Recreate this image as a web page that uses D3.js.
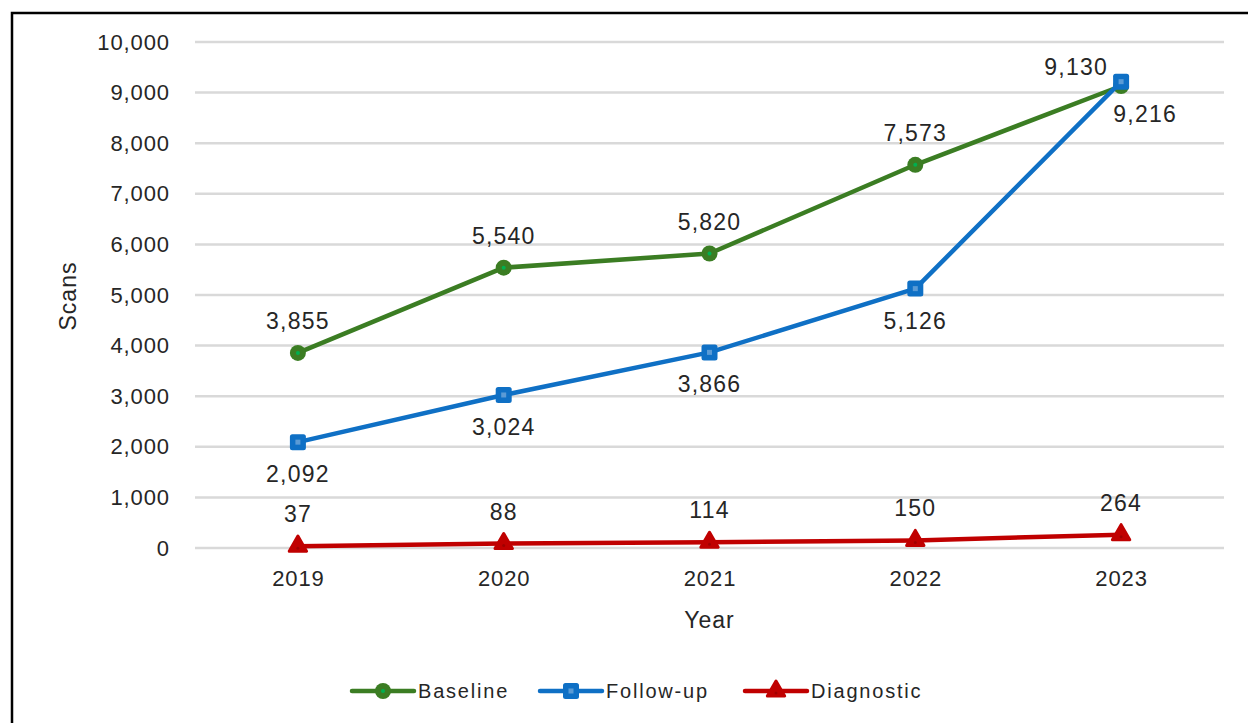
<!DOCTYPE html>
<html>
<head>
<meta charset="utf-8">
<script src="https://cdn.jsdelivr.net/npm/d3@7"></script>
<style>
  html, body { margin: 0; padding: 0; background: #fff; }
  svg { display: block; }
</style>
</head>
<body>
<svg id="chart" width="1248" height="723"></svg>
<script>
const years = ["2019", "2020", "2021", "2022", "2023"];
const baseline = [3855, 5540, 5820, 7573, 9130];
const followUp = [2092, 3024, 3866, 5126, 9216];
const diagnostic = [37, 88, 114, 150, 264];
const yTicks = [0, 1000, 2000, 3000, 4000, 5000, 6000, 7000, 8000, 9000, 10000];
const seriesNames = ["Baseline", "Follow-up", "Diagnostic"];

const series = [
  { name: seriesNames[0], values: baseline, color: "#3B7D23", inner: "#00B050", shape: "circle", labelPos: "above" },
  { name: seriesNames[1], values: followUp, color: "#0F70C5", inner: "#5B9BD5", shape: "square", labelPos: "below" },
  { name: seriesNames[2], values: diagnostic, color: "#C00000", inner: "#A00000", shape: "triangle", labelPos: "above" }
];
// special label nudges for the crowded 2023 points
const labelNudge = { "Baseline-2023": [-45, 13], "Follow-up-2023": [24, 0] };

const svg = d3.select("#chart");
const font = "'Liberation Sans', Arial, sans-serif";
const txt = "#262626";

// frame
svg.append("rect").attr("x", 12).attr("y", 13).attr("width", 1260).attr("height", 740)
  .attr("fill", "none").attr("stroke", "#000").attr("stroke-width", 2.5);

const x = d3.scalePoint().domain(years).range([195, 1224]).padding(0.5);
const y = d3.scaleLinear().domain([0, 10000]).range([548, 42]);

// gridlines
svg.append("g").selectAll("line").data(yTicks).join("line")
  .attr("x1", 195).attr("x2", 1224)
  .attr("y1", d => y(d)).attr("y2", d => y(d))
  .attr("stroke", "#D9D9D9").attr("stroke-width", 2.5);

// y axis
const yAxis = d3.axisLeft(y).tickValues(yTicks).tickFormat(d3.format(",")).tickSize(0).tickPadding(0);
const yg = svg.append("g").attr("transform", "translate(170,0)").call(yAxis);
yg.select(".domain").remove();
yg.selectAll("text").attr("font-family", font).attr("font-size", 22).attr("letter-spacing", 0.9).attr("fill", txt);

// x axis
const xAxis = d3.axisBottom(x).tickSize(0).tickPadding(0);
const xg = svg.append("g").attr("transform", "translate(0,570)").call(xAxis);
xg.select(".domain").remove();
xg.selectAll("text").attr("font-family", font).attr("font-size", 22).attr("letter-spacing", 0.9).attr("fill", txt);

// axis titles
svg.append("text").attr("x", x("2021")).attr("y", 628).attr("text-anchor", "middle")
  .attr("font-family", font).attr("font-size", 23).attr("letter-spacing", 1).attr("fill", txt).text("Year");
svg.append("text").attr("transform", "translate(76,296) rotate(-90)").attr("text-anchor", "middle")
  .attr("font-family", font).attr("font-size", 23).attr("letter-spacing", 1).attr("fill", txt).text("Scans");

const line = d3.line().x((d, i) => x(years[i])).y(d => y(d));

function drawMarker(g, shape, cx, cy, color, inner) {
  if (shape === "circle") {
    g.append("circle").attr("cx", cx).attr("cy", cy).attr("r", 8).attr("fill", color);
    g.append("circle").attr("cx", cx).attr("cy", cy).attr("r", 2).attr("fill", inner);
  } else if (shape === "square") {
    g.append("rect").attr("x", cx - 8).attr("y", cy - 8).attr("width", 16).attr("height", 16)
      .attr("rx", 2.5).attr("fill", color);
    g.append("rect").attr("x", cx - 2.5).attr("y", cy - 2.5).attr("width", 5).attr("height", 5).attr("fill", inner);
  } else {
    g.append("path").attr("d", d3.symbol(d3.symbolTriangle, 130)()).attr("transform", `translate(${cx},${cy})`)
      .attr("fill", color).attr("stroke", color).attr("stroke-width", 3).attr("stroke-linejoin", "round");
    g.append("circle").attr("cx", cx).attr("cy", cy + 2).attr("r", 1.5).attr("fill", inner);
  }
}

// draw order: diagnostic, baseline, follow-up
[series[2], series[0], series[1]].forEach(s => {
  const g = svg.append("g");
  g.append("path").datum(s.values).attr("d", line).attr("fill", "none")
    .attr("stroke", s.color).attr("stroke-width", 4.5).attr("stroke-linejoin", "round");
  s.values.forEach((v, i) => drawMarker(g, s.shape, x(years[i]), y(v), s.color, s.inner));
});

// data labels
series.forEach(s => {
  s.values.forEach((v, i) => {
    const nudge = labelNudge[s.name + "-" + years[i]] || [0, 0];
    const dy = s.labelPos === "above" ? -24 : 40;
    svg.append("text").attr("x", x(years[i]) + nudge[0]).attr("y", y(v) + dy + nudge[1])
      .attr("text-anchor", "middle").attr("font-family", font).attr("font-size", 23)
      .attr("letter-spacing", 1.2).attr("fill", txt).text(d3.format(",")(v));
  });
});

// legend
const legendX = [352, 540, 745];
series.forEach((s, i) => {
  const g = svg.append("g");
  const lx = legendX[i], ly = 691;
  g.append("line").attr("x1", lx).attr("x2", lx + 62).attr("y1", ly).attr("y2", ly)
    .attr("stroke", s.color).attr("stroke-width", 4.5).attr("stroke-linecap", "round");
  drawMarker(g, s.shape, lx + 31, ly, s.color, s.inner);
  g.append("text").attr("x", lx + 66).attr("y", ly + 7).attr("font-family", font)
    .attr("font-size", 20).attr("letter-spacing", 1.8).attr("fill", txt).text(s.name);
});
</script>
</body>
</html>
